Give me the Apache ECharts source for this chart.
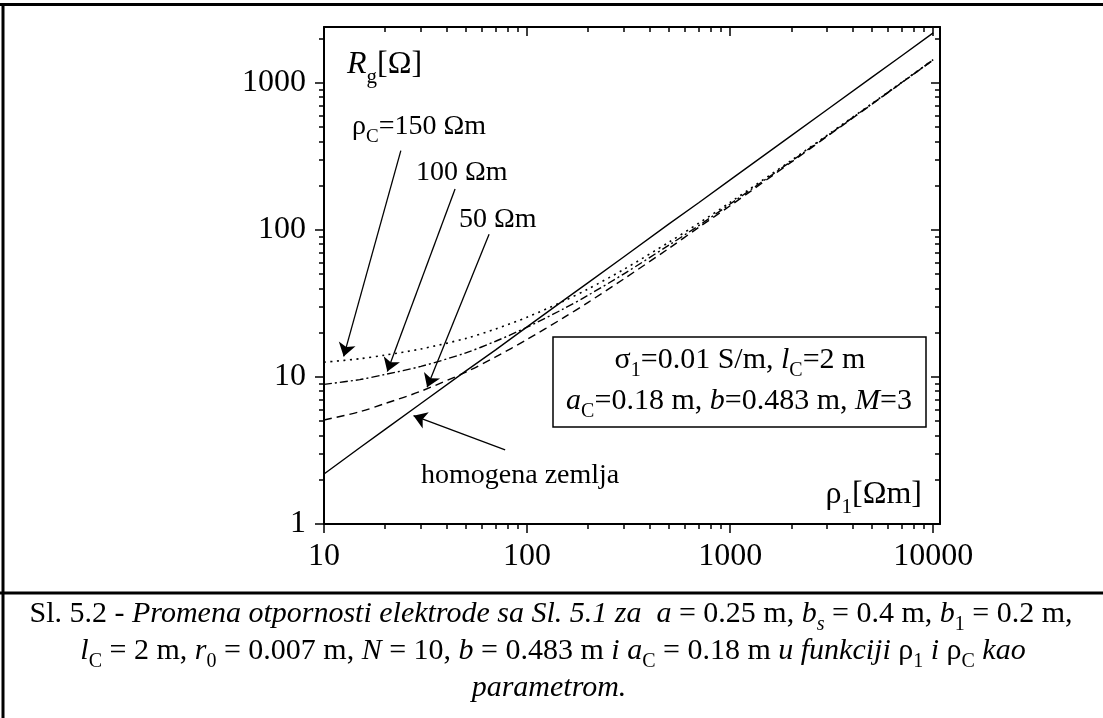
<!DOCTYPE html>
<html><head><meta charset="utf-8">
<script src="https://cdn.jsdelivr.net/npm/echarts@6/dist/echarts.min.js"></script>
<style>html,body{margin:0;padding:0;background:#fff}#c{width:1103px;height:718px}</style>
</head><body><div id="c"></div>
<script>
// ---- data ----
const rho1 = [10, 15, 20, 30, 50, 70, 100, 150, 200, 300, 500, 700, 1000, 2000, 3000, 5000, 7000, 10000];
const rgHomogeneous = [2.19, 3.3, 4.4, 6.6, 11.0, 15.3, 21.9, 32.9, 43.8, 65.7, 110, 153, 219, 438, 657, 1095, 1530, 2190];
const rgRhoC150 = [12.6, 13.3, 14.1, 15.5, 18.3, 21.2, 25.5, 32.6, 39.7, 54.0, 82.6, 111, 154, 297, 440, 725, 1010, 1438];
const rgRhoC100 = [8.9, 9.6, 10.4, 11.8, 14.6, 17.5, 21.8, 28.9, 36.0, 50.3, 78.9, 107, 150, 293, 436, 721, 1006, 1434];
const rgRhoC50 = [5.1, 5.8, 6.6, 8.0, 10.8, 13.7, 18.0, 25.1, 32.2, 46.5, 75, 104, 146, 289, 432, 717, 1003, 1431];
const xMajorTicks = [10, 100, 1000, 10000];
const xMinorTicks = [20, 30, 40, 50, 60, 70, 80, 90, 200, 300, 400, 500, 600, 700, 800, 900, 2000, 3000, 4000, 5000, 6000, 7000, 8000, 9000];
const yMajorTicks = [1, 10, 100, 1000];
const yMinorTicks = [2, 3, 4, 5, 6, 7, 8, 9, 20, 30, 40, 50, 60, 70, 80, 90, 200, 300, 400, 500, 600, 700, 800, 900, 2000];
// annotation arrows: [from, to] in data coordinates (rho1, Rg)
const arrowLines = [
  [[23.9, 346], [12.5, 13.8]],
  [[44.2, 190], [20.5, 10.9]],
  [[65.0, 93.5], [32.2, 8.5]],
  [[78, 3.19], [27.6, 5.45]]
];

const FONT = 'Liberation Serif';
const X_MIN = 10, X_MAX = 10800, Y_MIN = 1, Y_MAX = 2400;

function pairs(xs, ys) { return xs.map((x, i) => [x, ys[i]]); }

function mkX(pos, ticks, len, inside, showLine, showLabel) {
  return {
    type: 'log', logBase: 10, min: X_MIN, max: X_MAX, position: pos, gridIndex: 0,
    axisLine: { show: showLine, onZero: false, lineStyle: { color: '#000', width: 2 } },
    axisTick: { show: true, inside: inside, length: len, customValues: ticks, lineStyle: { color: '#000', width: 1.5 } },
    axisLabel: showLabel ? { show: true, customValues: ticks, margin: 17, color: '#000', fontFamily: FONT, fontSize: 32,
      formatter: v => String(Math.round(v)) } : { show: false },
    splitLine: { show: false }, minorTick: { show: false }, minorSplitLine: { show: false }
  };
}
function mkY(pos, ticks, len, inside, showLine, showLabel) {
  return {
    type: 'log', logBase: 10, min: Y_MIN, max: Y_MAX, position: pos, gridIndex: 0,
    axisLine: { show: showLine, onZero: false, lineStyle: { color: '#000', width: 2 } },
    axisTick: { show: true, inside: inside, length: len, customValues: ticks, lineStyle: { color: '#000', width: 1.5 } },
    axisLabel: showLabel ? { show: true, customValues: ticks, margin: 18, color: '#000', fontFamily: FONT, fontSize: 32,
      formatter: v => String(Math.round(v)) } : { show: false },
    splitLine: { show: false }, minorTick: { show: false }, minorSplitLine: { show: false }
  };
}

const sub = (size, pad) => ({ fontFamily: FONT, fontSize: size, padding: [pad, 0, 0, 0], color: '#000' });
const txt = (size, italic) => ({ fontFamily: FONT, fontSize: size, fontStyle: italic ? 'italic' : 'normal', color: '#000' });

function text(x, y, str, rich, align) {
  return { type: 'text', x: x, y: y, z: 50,
    style: { text: str, rich: rich, fill: '#000', fontFamily: FONT, fontSize: 28,
      textAlign: align || 'left', align: align || 'left', textVerticalAlign: 'middle', verticalAlign: 'middle' } };
}

const capRich = {
  n: txt(30, false), i: txt(30, true),
  s: Object.assign(sub(20, 22), { fontStyle: 'normal' }),
  si: Object.assign(sub(20, 22), { fontStyle: 'italic' })
};

const lineStyleBase = { color: '#000', width: 1.4 };

const chart = echarts.init(document.getElementById('c'), null, { renderer: 'canvas' });
chart.setOption({
  animation: false,
  backgroundColor: '#fff',
  grid: { left: 324, top: 27, right: 163, bottom: 194, containLabel: false, outerBoundsMode: 'none' },
  xAxis: [
    mkX('bottom', xMajorTicks, 9, false, true, true),
    mkX('bottom', xMinorTicks, 5, false, false, false),
    mkX('top', xMajorTicks, 9, true, true, false),
    mkX('top', xMinorTicks, 5, true, false, false)
  ],
  yAxis: [
    mkY('left', yMajorTicks, 9, false, true, true),
    mkY('left', yMinorTicks, 5, false, false, false),
    mkY('right', yMajorTicks, 9, true, true, false),
    mkY('right', yMinorTicks, 5, true, false, false)
  ],
  series: [
    { name: 'homogena zemlja', type: 'line', xAxisIndex: 0, yAxisIndex: 0, showSymbol: false, symbol: 'none',
      data: pairs(rho1, rgHomogeneous), lineStyle: Object.assign({ type: 'solid' }, lineStyleBase), z: 5,
      emphasis: { disabled: true },
      markLine: { silent: true, animation: false, symbol: ['none', 'arrow'], symbolSize: 13,
        label: { show: false }, emphasis: { disabled: true },
        itemStyle: { color: '#000' },
        lineStyle: { color: '#000', width: 1.3, type: 'solid' },
        data: arrowLines.map(a => [{ coord: a[0] }, { coord: a[1] }]) } },
    { name: 'ρC=150', type: 'line', xAxisIndex: 0, yAxisIndex: 0, showSymbol: false, symbol: 'none', smooth: 0.3,
      data: pairs(rho1, rgRhoC150), lineStyle: { color: '#000', width: 1.6, type: [2, 4.5] }, emphasis: { disabled: true } },
    { name: 'ρC=100', type: 'line', xAxisIndex: 0, yAxisIndex: 0, showSymbol: false, symbol: 'none', smooth: 0.3,
      data: pairs(rho1, rgRhoC100), lineStyle: Object.assign({ type: [8, 3, 2, 3] }, lineStyleBase), emphasis: { disabled: true } },
    { name: 'ρC=50', type: 'line', xAxisIndex: 0, yAxisIndex: 0, showSymbol: false, symbol: 'none', smooth: 0.3,
      data: pairs(rho1, rgRhoC50), lineStyle: Object.assign({ type: [8, 5] }, lineStyleBase), emphasis: { disabled: true } }
  ],
  graphic: [
    // frames
    { type: 'line', z: 60, shape: { x1: 0, y1: 4.5, x2: 1103, y2: 4.5 }, style: { stroke: '#000', lineWidth: 3 } },
    { type: 'line', z: 60, shape: { x1: 3, y1: 3, x2: 3, y2: 718 }, style: { stroke: '#000', lineWidth: 3 } },
    { type: 'line', z: 60, shape: { x1: 0, y1: 593, x2: 1103, y2: 593 }, style: { stroke: '#000', lineWidth: 3 } },
    // axis titles
    text(347, 65, '{ri|R}{s|g}{n|[Ω]}', { ri: txt(32, true), n: txt(32, false), s: sub(21, 24) }),
    text(922, 495, '{n|ρ}{s|1}{n|[Ωm]}', { n: txt(32, false), s: sub(21, 24) }, 'right'),
    // annotations
    text(352, 127, '{n|ρ}{s|C}{n|=150 Ωm}', { n: txt(28, false), s: sub(19, 20) }),
    text(416, 173, '{n|100 Ωm}', { n: txt(28, false) }),
    text(459, 220, '{n|50 Ωm}', { n: txt(28, false) }),
    text(421, 476, '{n|homogena zemlja}', { n: txt(28, false) }),
    // parameter box
    { type: 'rect', z: 40, shape: { x: 553, y: 337, width: 373, height: 90 }, style: { fill: '#fff', stroke: '#000', lineWidth: 1.5 } },
    text(740, 360, '{n|σ}{s|1}{n|=0.01 S/m, }{i|l}{s|C}{n|=2 m}', { n: txt(30, false), i: txt(30, true), s: sub(20, 22) }, 'center'),
    text(739, 401, '{i|a}{s|C}{n|=0.18 m, }{i|b}{n|=0.483 m, }{i|M}{n|=3}', { n: txt(30, false), i: txt(30, true), s: sub(20, 22) }, 'center'),
    // caption
    text(551, 614, '{n|Sl. 5.2 - }{i|Promena otpornosti elektrode sa Sl. 5.1 za  a}{n| = 0.25 m, }{i|b}{si|s}{n| = 0.4 m, }{i|b}{s|1}{n| = 0.2 m,}', capRich, 'center'),
    text(553, 651, '{i|l}{s|C}{n| = 2 m, }{i|r}{s|0}{n| = 0.007 m, }{i|N}{n| = 10, }{i|b}{n| = 0.483 m }{i|i a}{s|C}{n| = 0.18 m }{i|u funkciji}{n| ρ}{s|1}{i| i }{n|ρ}{s|C}{i| kao}', capRich, 'center'),
    text(549, 688, '{i|parametrom.}', capRich, 'center')
  ]
});
</script></body></html>
